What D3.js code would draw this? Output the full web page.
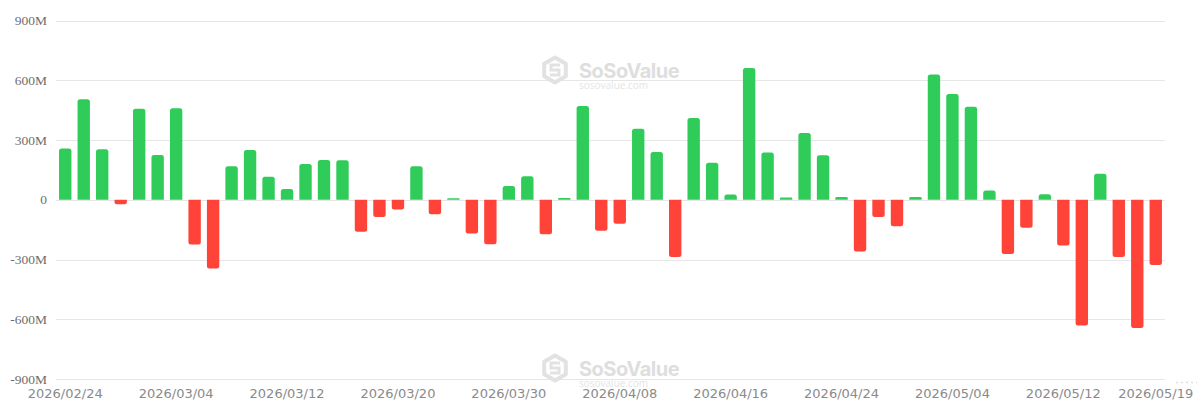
<!DOCTYPE html>
<html>
<head>
<meta charset="utf-8">
<script src="https://cdn.jsdelivr.net/npm/d3@7/dist/d3.min.js"></script>
<style>
  html, body { margin: 0; padding: 0; background: #fff; }
  svg { display: block; }
</style>
</head>
<body>
<svg id="chart" width="1200" height="409"></svg>
<script>
// ---- data ----
const dates = [
  "2026/02/24","2026/02/25","2026/02/26","2026/02/27","2026/03/02","2026/03/03","2026/03/04","2026/03/05","2026/03/06","2026/03/09",
  "2026/03/10","2026/03/11","2026/03/12","2026/03/13","2026/03/16","2026/03/17","2026/03/18","2026/03/19","2026/03/20","2026/03/23",
  "2026/03/24","2026/03/25","2026/03/26","2026/03/27","2026/03/30","2026/03/31","2026/04/01","2026/04/02","2026/04/06","2026/04/07",
  "2026/04/08","2026/04/09","2026/04/10","2026/04/13","2026/04/14","2026/04/15","2026/04/16","2026/04/17","2026/04/20","2026/04/21",
  "2026/04/22","2026/04/23","2026/04/24","2026/04/27","2026/04/28","2026/04/29","2026/04/30","2026/05/01","2026/05/04","2026/05/05",
  "2026/05/06","2026/05/07","2026/05/08","2026/05/11","2026/05/12","2026/05/13","2026/05/14","2026/05/15","2026/05/18","2026/05/19"
];
// daily net flow, millions USD
const netFlow = [
  257, 504, 253, -22, 457, 225, 460, -225, -345, 168,
  250, 116, 54, 180, 200, 198, -161, -86, -49, 168,
  -73, 7, -170, -223, 69, 118, -173, 9, 471, -156,
  -121, 357, 240, -288, 410, 186, 26, 661, 237, 11,
  335, 223, 14, -260, -86, -133, 14, 629, 531, 467,
  46, -273, -141, 28, -230, -631, 131, -288, -644, -327
];
const xTickLabels = ["2026/02/24","2026/03/04","2026/03/12","2026/03/20","2026/03/30","2026/04/08","2026/04/16","2026/04/24","2026/05/04","2026/05/12","2026/05/19"];
const yTicks = [-900, -600, -300, 0, 300, 600, 900];
const yTickLabels = ["-900M", "-600M", "-300M", "0", "300M", "600M", "900M"];

// ---- layout ----
const svg = d3.select("#chart");
const plotLeft = 56, plotRight = 1165, plotTop = 20.5, plotBottom = 379;
const x = d3.scaleBand().domain(dates).range([plotLeft, plotRight]).paddingInner(0.33).paddingOuter(0.165);
const y = d3.scaleLinear().domain([-900, 900]).range([plotBottom, plotTop]);

const green = "#30cc5a", red = "#ff4338";

// watermark
function watermark(cx, cy) {
  const g = svg.append("g");
  const r = 12.5;
  const hex = d3.range(6).map(i => {
    const a = Math.PI / 3 * i - Math.PI / 2;
    return [cx + r * Math.cos(a), cy + r * Math.sin(a)];
  });
  g.append("polygon").attr("points", hex.map(p => p.join(",")).join(" "))
    .attr("fill", "none").attr("stroke", "#e2e2e2").attr("stroke-width", 4).attr("stroke-linejoin", "round");
  g.append("path")
    .attr("d", `M${cx+5},${cy-5} L${cx-4},${cy-5} L${cx-4},${cy} L${cx+4},${cy} L${cx+4},${cy+5} L${cx-5},${cy+5}`)
    .attr("fill", "none").attr("stroke", "#e2e2e2").attr("stroke-width", 3);
  g.append("text").attr("x", cx + 24).attr("y", cy + 8)
    .attr("font-family", "Inter, 'Open Sans', sans-serif").attr("font-weight", 700)
    .attr("font-size", 20).attr("fill", "#dedede").attr("letter-spacing", -0.5).text("SoSoValue");
  g.append("text").attr("x", cx + 24).attr("y", cy + 19)
    .attr("font-family", "'Open Sans', sans-serif")
    .attr("font-size", 10).attr("fill", "#e4e4e4").text("sosovalue.com");
}

// grid lines
svg.append("g").selectAll("line").data(yTicks).join("line")
  .attr("x1", plotLeft).attr("x2", plotRight)
  .attr("y1", d => Math.round(y(d)) + 0.5).attr("y2", d => Math.round(y(d)) + 0.5)
  .attr("stroke", "#e6e6e6").attr("stroke-width", 1);

watermark(555, 70);
watermark(555, 368);

// y labels
svg.append("g").selectAll("text").data(yTicks).join("text")
  .attr("x", 47).attr("y", d => y(d) + 4.5)
  .attr("text-anchor", "end")
  .attr("font-family", "'Liberation Serif', 'DejaVu Serif', serif")
  .attr("font-size", 13.5).attr("fill", "#6e6e6e")
  .text((d, i) => yTickLabels[i]);

// bars
function barPath(d, i) {
  const v = netFlow[i];
  const x0 = x(d), w = x.bandwidth();
  const y0 = y(0), y1 = y(v);
  const h = Math.abs(y1 - y0);
  const r = Math.min(2.5, h / 2, w / 2);
  if (v >= 0) {
    return `M${x0},${y0} L${x0},${y1 + r} Q${x0},${y1} ${x0 + r},${y1} L${x0 + w - r},${y1} Q${x0 + w},${y1} ${x0 + w},${y1 + r} L${x0 + w},${y0} Z`;
  } else {
    return `M${x0},${y0} L${x0},${y1 - r} Q${x0},${y1} ${x0 + r},${y1} L${x0 + w - r},${y1} Q${x0 + w},${y1} ${x0 + w},${y1 - r} L${x0 + w},${y0} Z`;
  }
}
svg.append("g").selectAll("path").data(dates).join("path")
  .attr("d", barPath)
  .attr("fill", (d, i) => netFlow[i] >= 0 ? green : red);

// x labels
svg.append("g").selectAll("text").data(xTickLabels).join("text")
  .attr("x", d => x(d) + x.bandwidth() / 2)
  .attr("y", 398)
  .attr("text-anchor", "middle")
  .attr("font-family", "'DejaVu Sans', Verdana, sans-serif")
  .attr("font-size", 13)
  .attr("fill", "#8a8a8a")
  .text(d => d);

// small faded mark at bottom right
svg.append("line").attr("x1", 1176).attr("x2", 1197).attr("y1", 382.5).attr("y2", 382.5)
  .attr("stroke", "#e0e0e0").attr("stroke-width", 1.5).attr("stroke-dasharray", "2,3");
</script>
</body>
</html>
